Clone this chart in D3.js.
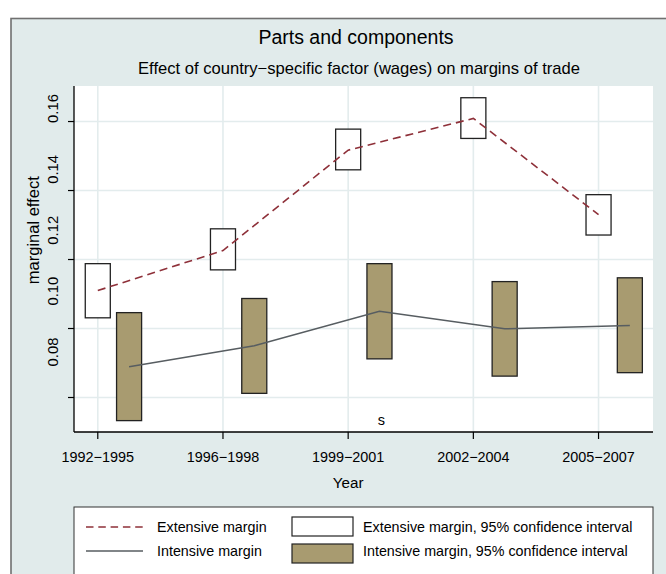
<!DOCTYPE html>
<html>
<head>
<meta charset="utf-8">
<script src="https://cdn.jsdelivr.net/npm/d3@7"></script>
<style>
  body { margin: 0; background: #fff; }
  svg { display: block; font-family: "Liberation Sans", Arial, sans-serif; }
</style>
</head>
<body>
<svg id="chart" width="666" height="574"></svg>
<script>
// periods on the x axis
const periods = ['1992\u22121995', '1996\u22121998', '1999\u22122001', '2002\u22122004', '2005\u22122007'];

// extensive margin: point estimate and 95% CI
const extEst = [0.1110, 0.1226, 0.1517, 0.1609, 0.1330];
const extLo  = [0.1031, 0.1170, 0.1460, 0.1551, 0.1271];
const extHi  = [0.1188, 0.1289, 0.1578, 0.1669, 0.1388];

// intensive margin: point estimate and 95% CI
const intEst = [0.0889, 0.0950, 0.1050, 0.0999, 0.1009];
const intLo  = [0.0733, 0.0812, 0.0912, 0.0862, 0.0872];
const intHi  = [0.1046, 0.1087, 0.1188, 0.1136, 0.1147];

const yTicks = [0.08, 0.10, 0.12, 0.14, 0.16];
const yTickLabels = ['0.08', '0.10', '0.12', '0.14', '0.16'];

const svg = d3.select('#chart');
const margin = { top: 86, right: 13, bottom: 142, left: 74 };
const W = 666, H = 574;
const plotW = W - margin.left - margin.right;
const plotH = H - margin.top - margin.bottom;

const bg = '#e1ebeb';
const grid = '#e3eced';
const extColor = '#8e3039';
const intColor = '#575d61';
const boxFill = '#a89b70';

// outer graph region (runs off the right and bottom of the picture)
svg.append('rect')
    .attr('x', 11).attr('y', 18.5)
    .attr('width', 720).attr('height', 620)
    .attr('fill', bg).attr('stroke', '#707070').attr('stroke-width', 1.6);

const x = d3.scaleLinear().domain([-0.19, 4.435]).range([0, plotW]);
const y = d3.scaleLinear().domain([0.07, 0.1703]).range([plotH, 0]);
// the tick labels sit on a slightly squeezed band, as in the original
const yLabel = d3.scaleLinear().domain([0.08, 0.16]).range([352 - margin.top, 108.5 - margin.top]);

const intOffset = 0.25;
const boxW = x(0.2) - x(0);

const g = svg.append('g').attr('transform', `translate(${margin.left},${margin.top})`);

g.append('rect').attr('width', plotW).attr('height', plotH).attr('fill', '#fff');

// grid
g.selectAll('.hgrid').data(yTicks).enter().append('line')
    .attr('x1', 0).attr('x2', plotW)
    .attr('y1', d => y(d)).attr('y2', d => y(d))
    .attr('stroke', grid).attr('stroke-width', 1.6);
g.selectAll('.vgrid').data(periods).enter().append('line')
    .attr('x1', (d, i) => x(i)).attr('x2', (d, i) => x(i))
    .attr('y1', 0).attr('y2', plotH)
    .attr('stroke', grid).attr('stroke-width', 1.6);

// extensive CI boxes
g.selectAll('.extbox').data(periods).enter().append('rect')
    .attr('x', (d, i) => x(i) - boxW / 2)
    .attr('y', (d, i) => y(extHi[i]))
    .attr('width', boxW)
    .attr('height', (d, i) => y(extLo[i]) - y(extHi[i]))
    .attr('fill', '#fff').attr('stroke', '#222').attr('stroke-width', 1.3);

// intensive CI boxes
g.selectAll('.intbox').data(periods).enter().append('rect')
    .attr('x', (d, i) => x(i + intOffset) - boxW / 2)
    .attr('y', (d, i) => y(intHi[i]))
    .attr('width', boxW)
    .attr('height', (d, i) => y(intLo[i]) - y(intHi[i]))
    .attr('fill', boxFill).attr('stroke', '#222').attr('stroke-width', 1.3);

// lines
const extLine = d3.line().x((d, i) => x(i)).y(d => y(d));
const intLine = d3.line().x((d, i) => x(i + intOffset)).y(d => y(d));

g.append('path').datum(extEst).attr('d', extLine)
    .attr('fill', 'none').attr('stroke', extColor).attr('stroke-width', 1.6)
    .attr('stroke-dasharray', '8,5');
g.append('path').datum(intEst).attr('d', intLine)
    .attr('fill', 'none').attr('stroke', intColor).attr('stroke-width', 1.5);

// stray "s" label inside the plot
g.append('text').attr('x', x(2.265)).attr('y', y(0.0735) + 5)
    .attr('text-anchor', 'middle').attr('font-size', 14.5).text('s');

// axes
g.append('line').attr('x1', 0).attr('x2', 0).attr('y1', 0).attr('y2', plotH)
    .attr('stroke', '#000').attr('stroke-width', 1.3);
g.append('line').attr('x1', 0).attr('x2', plotW).attr('y1', plotH).attr('y2', plotH)
    .attr('stroke', '#000').attr('stroke-width', 1.3);

g.selectAll('.ytick').data(yTicks).enter().append('line')
    .attr('x1', -6).attr('x2', 0)
    .attr('y1', d => y(d)).attr('y2', d => y(d))
    .attr('stroke', '#000').attr('stroke-width', 1.2);
g.selectAll('.ylab').data(yTicks).enter().append('text')
    .attr('transform', (d, i) => `translate(-16,${yLabel(d)}) rotate(-90)`)
    .attr('text-anchor', 'middle').attr('font-size', 14.8)
    .text((d, i) => yTickLabels[i]);

g.selectAll('.xtick').data(periods).enter().append('line')
    .attr('x1', (d, i) => x(i)).attr('x2', (d, i) => x(i))
    .attr('y1', plotH).attr('y2', plotH + 7)
    .attr('stroke', '#000').attr('stroke-width', 1.2);
g.selectAll('.xlab').data(periods).enter().append('text')
    .attr('x', (d, i) => x(i)).attr('y', plotH + 30)
    .attr('text-anchor', 'middle').attr('font-size', 14.4)
    .text(d => d);

// axis titles
g.append('text')
    .attr('transform', `translate(-35,${(yLabel(0.08) + yLabel(0.16)) / 2}) rotate(-90)`)
    .attr('text-anchor', 'middle').attr('font-size', 16.5).text('marginal effect');
g.append('text').attr('x', x(2)).attr('y', plotH + 56)
    .attr('text-anchor', 'middle').attr('font-size', 15.2).text('Year');

// titles
svg.append('text').attr('x', 356).attr('y', 44)
    .attr('text-anchor', 'middle').attr('font-size', 19.5).text('Parts and components');
svg.append('text').attr('x', 359).attr('y', 74)
    .attr('text-anchor', 'middle').attr('font-size', 16.6)
    .text('Effect of country\u2212specific factor (wages) on margins of trade');

// legend
const leg = svg.append('g').attr('transform', `translate(${margin.left},507)`);
leg.append('rect').attr('width', plotW).attr('height', 120)
    .attr('fill', '#fff').attr('stroke', '#333').attr('stroke-width', 1);

const legRows = [20, 44];
leg.append('line').attr('x1', 12).attr('x2', 73).attr('y1', legRows[0]).attr('y2', legRows[0])
    .attr('stroke', extColor).attr('stroke-width', 1.6).attr('stroke-dasharray', '7.5,4.8');
leg.append('line').attr('x1', 12).attr('x2', 69).attr('y1', legRows[1]).attr('y2', legRows[1])
    .attr('stroke', intColor).attr('stroke-width', 1.5);
leg.append('text').attr('x', 83).attr('y', legRows[0] + 5).attr('font-size', 14.3).text('Extensive margin');
leg.append('text').attr('x', 83).attr('y', legRows[1] + 5).attr('font-size', 14.3).text('Intensive margin');

leg.append('rect').attr('x', 218).attr('y', legRows[0] - 10).attr('width', 61).attr('height', 19)
    .attr('fill', '#fff').attr('stroke', '#222').attr('stroke-width', 1.2);
leg.append('rect').attr('x', 218).attr('y', legRows[1] - 7).attr('width', 61).attr('height', 19)
    .attr('fill', boxFill).attr('stroke', '#222').attr('stroke-width', 1.2);
leg.append('text').attr('x', 289).attr('y', legRows[0] + 5).attr('font-size', 14.3)
    .text('Extensive margin, 95% confidence interval');
leg.append('text').attr('x', 289).attr('y', legRows[1] + 5).attr('font-size', 14.3)
    .text('Intensive margin, 95% confidence interval');
</script>
</body>
</html>
